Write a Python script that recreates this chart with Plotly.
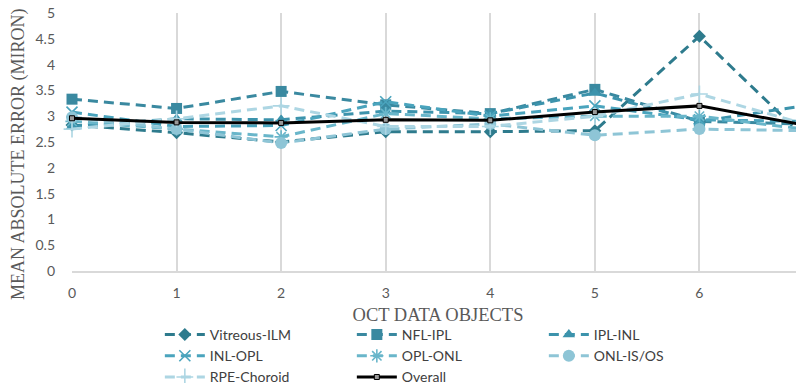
import plotly.graph_objects as go

x_vals = [0, 1, 2, 3, 4, 5, 6, 7]

vitreous_ilm = [2.83, 2.68, 2.50, 2.70, 2.70, 2.72, 4.55, 2.60]
nfl_ipl      = [3.33, 3.15, 3.48, 3.22, 3.05, 3.52, 2.90, 2.85]
ipl_inl      = [2.80, 2.95, 2.93, 3.10, 3.05, 3.45, 2.90, 3.20]
inl_opl      = [3.08, 2.80, 2.82, 3.28, 3.00, 3.20, 2.93, 2.90]
opl_onl      = [2.90, 2.75, 2.60, 3.05, 2.95, 3.00, 3.00, 2.75]
onl_isos     = [2.98, 2.75, 2.48, 2.75, 2.85, 2.63, 2.75, 2.72]
rpe_choroid  = [2.75, 2.95, 3.20, 2.80, 2.80, 3.00, 3.43, 2.85]
overall      = [2.96, 2.88, 2.87, 2.93, 2.92, 3.08, 3.20, 2.83]

y_ticks = [0, 0.5, 1, 1.5, 2, 2.5, 3, 3.5, 4, 4.5, 5]
y_tick_labels = ["0", "0.5", "1", "1.5", "2", "2.5", "3", "3.5", "4", "4.5", "5"]

series = [
    ("Vitreous-ILM", vitreous_ilm, "#2E7B8D", "diamond", 10, 0),
    ("NFL-IPL", nfl_ipl, "#3A89A0", "square", 11, 0),
    ("IPL-INL", ipl_inl, "#3C93AC", "triangle-up", 11, 0),
    ("INL-OPL", inl_opl, "#4AA4BD", "x-thin-open", 11, 1.6),
    ("OPL-ONL", opl_onl, "#69B6CA", "asterisk-open", 11, 1.6),
    ("ONL-IS/OS", onl_isos, "#8EC5D6", "circle", 12, 0),
    ("RPE-Choroid", rpe_choroid, "#ADD6E3", "cross-thin-open", 12, 1.6),
]

fig = go.Figure()
for name, vals, color, sym, size, lw in series:
    fig.add_trace(go.Scatter(
        x=x_vals, y=vals, name=name, mode="lines+markers",
        line=dict(color=color, width=3, dash="10px,6px"),
        marker=dict(symbol=sym, size=size, color=color,
                    line=dict(color=color, width=lw)),
        cliponaxis=False,
    ))

fig.add_trace(go.Scatter(
    x=x_vals, y=overall, name="Overall", mode="lines+markers",
    line=dict(color="#000000", width=3),
    marker=dict(symbol="square", size=5, color="#999999",
                line=dict(color="#000000", width=1)),
    cliponaxis=False,
))

fig.add_annotation(
    text="MEAN ABSOLUTE ERROR (MIRON)", textangle=-90,
    xref="paper", yref="paper", x=-0.0738, y=0.453,
    xanchor="center", yanchor="middle", showarrow=False,
    font=dict(family="Liberation Serif, Times New Roman, serif", size=18, color="#595959"),
)

fig.update_layout(
    width=796, height=375,
    margin=dict(l=64, r=0, t=5, b=112, autoexpand=False),
    plot_bgcolor="white", paper_bgcolor="white",
    font=dict(family="Lato, Open Sans, sans-serif", size=14, color="#595959"),
    legend=dict(
        orientation="h", x=0.12, xanchor="left", y=-0.186, yanchor="top",
        entrywidth=137, font=dict(family="Lato, Open Sans, sans-serif", size=14, color="#404040"),
        itemwidth=40, tracegroupgap=0,
    ),
    xaxis=dict(
        range=[0, 7], tickmode="array", tickvals=x_vals,
        ticktext=[str(v) for v in x_vals],
        showgrid=True, gridcolor="#d9d9d9", gridwidth=1.5,
        showline=True, linecolor="#d9d9d9", linewidth=1.5,
        zeroline=False, ticks="", ticklabelstandoff=8, automargin=False,
        ticklabeloverflow="allow",
        tickfont=dict(size=14, color="#595959"),
        title=dict(text="OCT DATA OBJECTS", standoff=9,
                   font=dict(family="Liberation Serif, Times New Roman, serif", size=18.5, color="#595959")),
    ),
    yaxis=dict(
        range=[0, 5], tickmode="array", tickvals=y_ticks, ticktext=y_tick_labels,
        showgrid=False, zeroline=False, showline=False, ticks="",
        ticklabelstandoff=16, automargin=False,
        ticklabeloverflow="allow",
        tickfont=dict(size=14, color="#595959"),
    ),
)

fig.write_html("out.html")
